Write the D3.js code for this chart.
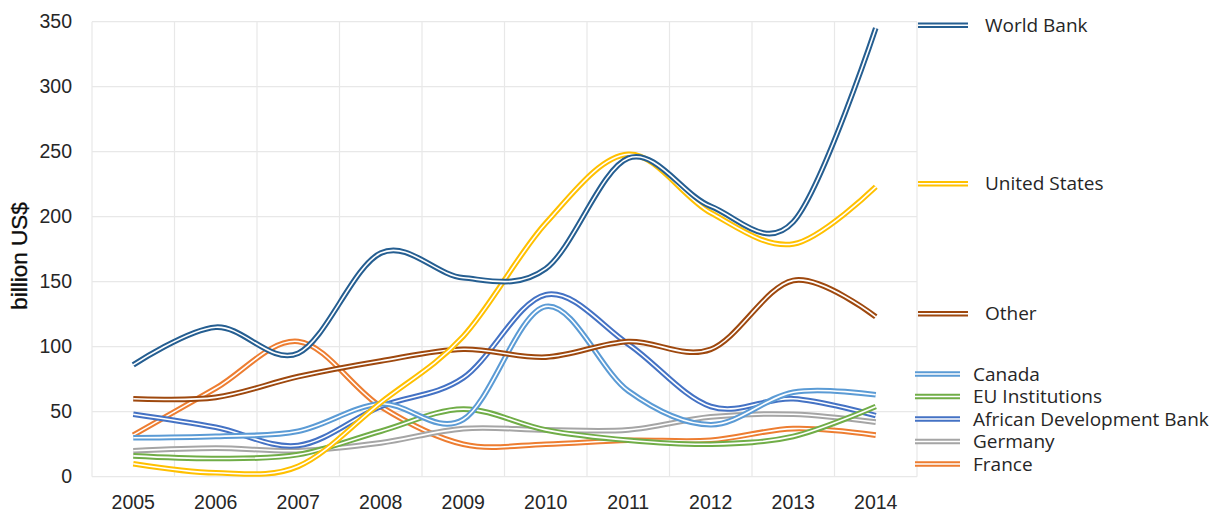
<!DOCTYPE html>
<html>
<head>
<meta charset="utf-8">
<script src="https://cdn.jsdelivr.net/npm/d3@7"></script>
<style>
  html, body { margin: 0; padding: 0; background: #fff; }
  svg { display: block; }
</style>
</head>
<body>
<svg id="chart" width="1222" height="512"></svg>
<script>
// ---- data ----
const years = ["2005","2006","2007","2008","2009","2010","2011","2012","2013","2014"];
const yTicks = [0, 50, 100, 150, 200, 250, 300, 350];

const seriesNames = ["World Bank","United States","Other","Canada","EU Institutions","African Development Bank","Germany","France"];

const worldBank     = [86, 115, 95, 172, 153, 160, 245, 208, 196, 345];
const unitedStates  = [10, 3, 8, 57, 108, 195, 248, 203, 179, 223];
const other         = [60, 61, 77, 89, 98, 92, 104, 98, 151, 123];
const canada        = [30, 31, 35, 56, 44, 131, 66, 40, 65, 63];
const euInstitutions= [16, 14, 17, 35, 52, 36, 28, 25, 31, 54];
const afdb          = [48, 38, 24, 54, 76, 140, 102, 54, 60, 47];
const germany       = [20, 22, 20, 26, 37, 36, 36, 46, 48, 42];
const france        = [32, 68, 104, 54, 25, 25, 28, 28, 37, 32];

const seriesValues = [worldBank, unitedStates, other, canada, euInstitutions, afdb, germany, france];
const seriesColors = ["#255e91","#ffc000","#9e480e","#5b9bd5","#70ad47","#4472c4","#a5a5a5","#ed7d31"];

// ---- layout ----
const svg = d3.select("#chart");
const W = 1222, H = 512;
const plot = { left: 92, right: 917, top: 21.7, bottom: 476.7 };

const x = d3.scaleBand().domain(years).range([plot.left, plot.right]).padding(0);
const y = d3.scaleLinear().domain([0, 350]).range([plot.bottom, plot.top]);
const xc = d => x(d) + x.bandwidth() / 2;

svg.append("rect").attr("width", W).attr("height", H).attr("fill", "#fff");

// grid
const grid = svg.append("g");
grid.selectAll("line.h").data(yTicks).join("line")
  .attr("x1", plot.left).attr("x2", plot.right)
  .attr("y1", d => y(d)).attr("y2", d => y(d))
  .attr("stroke", "#e8e8e8").attr("stroke-width", 1.2);
const vBounds = years.map(d => x(d)).concat([plot.right]);
grid.selectAll("line.v").data(vBounds).join("line")
  .attr("x1", d => d).attr("x2", d => d)
  .attr("y1", plot.top).attr("y2", plot.bottom)
  .attr("stroke", "#e8e8e8").attr("stroke-width", 1.2);

// axes (labels only)
const yAxis = svg.append("g").attr("transform", `translate(${plot.left},0)`)
  .call(d3.axisLeft(y).tickValues(yTicks).tickSize(0).tickPadding(20));
yAxis.select(".domain").remove();
yAxis.selectAll("text").attr("font-family", "Liberation Sans, Arial, sans-serif")
  .attr("font-size", "19.5px").attr("fill", "#262626");

const xAxis = svg.append("g").attr("transform", `translate(0,${plot.bottom})`)
  .call(d3.axisBottom(x).tickSize(0).tickPadding(18));
xAxis.select(".domain").remove();
xAxis.selectAll("text").attr("font-family", "Liberation Sans, Arial, sans-serif")
  .attr("font-size", "19.5px").attr("fill", "#262626");

// y axis title
svg.append("text")
  .attr("transform", `translate(27,256) rotate(-90)`)
  .attr("text-anchor", "middle")
  .attr("font-family", "Liberation Sans, Arial, sans-serif")
  .attr("font-size", "22.5px").attr("fill", "#0d0d0d")
  .attr("stroke", "#0d0d0d").attr("stroke-width", 0.3)
  .text("billion US$");

// lines (draw last series first so World Bank is on top)
const line = d3.line()
  .x((d, i) => xc(years[i]))
  .y(d => y(d))
  .curve(d3.curveCatmullRom.alpha(0));

const order = d3.range(seriesNames.length).reverse();
const lines = svg.append("g");
order.forEach(i => {
  const g = lines.append("g");
  g.append("path").datum(seriesValues[i]).attr("d", line)
    .attr("fill", "none").attr("stroke", seriesColors[i]).attr("stroke-width", 5.6)
    .attr("stroke-linejoin", "round");
  g.append("path").datum(seriesValues[i]).attr("d", line)
    .attr("fill", "none").attr("stroke", "#fff").attr("stroke-width", 1.6)
    .attr("stroke-linejoin", "round");
});

// legend
const legend = svg.append("g").attr("font-family", "Open Sans, Segoe UI, sans-serif")
  .attr("font-size", "19px").attr("fill", "#262626");
seriesNames.forEach((name, i) => {
  let ly, lx0, lx1, tx;
  if (i < 3) {
    ly = y(seriesValues[i][seriesValues[i].length - 1]) - 3;
    lx0 = 918; lx1 = 968; tx = 985;
  } else {
    ly = 374 + (i - 3) * 22.5;
    lx0 = 915; lx1 = 960; tx = 973;
  }
  legend.append("line").attr("x1", lx0).attr("x2", lx1).attr("y1", ly).attr("y2", ly)
    .attr("stroke", seriesColors[i]).attr("stroke-width", 5.6);
  legend.append("line").attr("x1", lx0).attr("x2", lx1).attr("y1", ly).attr("y2", ly)
    .attr("stroke", "#fff").attr("stroke-width", 1.6);
  legend.append("text").attr("x", tx).attr("y", ly).attr("dy", "0.35em").text(name);
});
</script>
</body>
</html>
